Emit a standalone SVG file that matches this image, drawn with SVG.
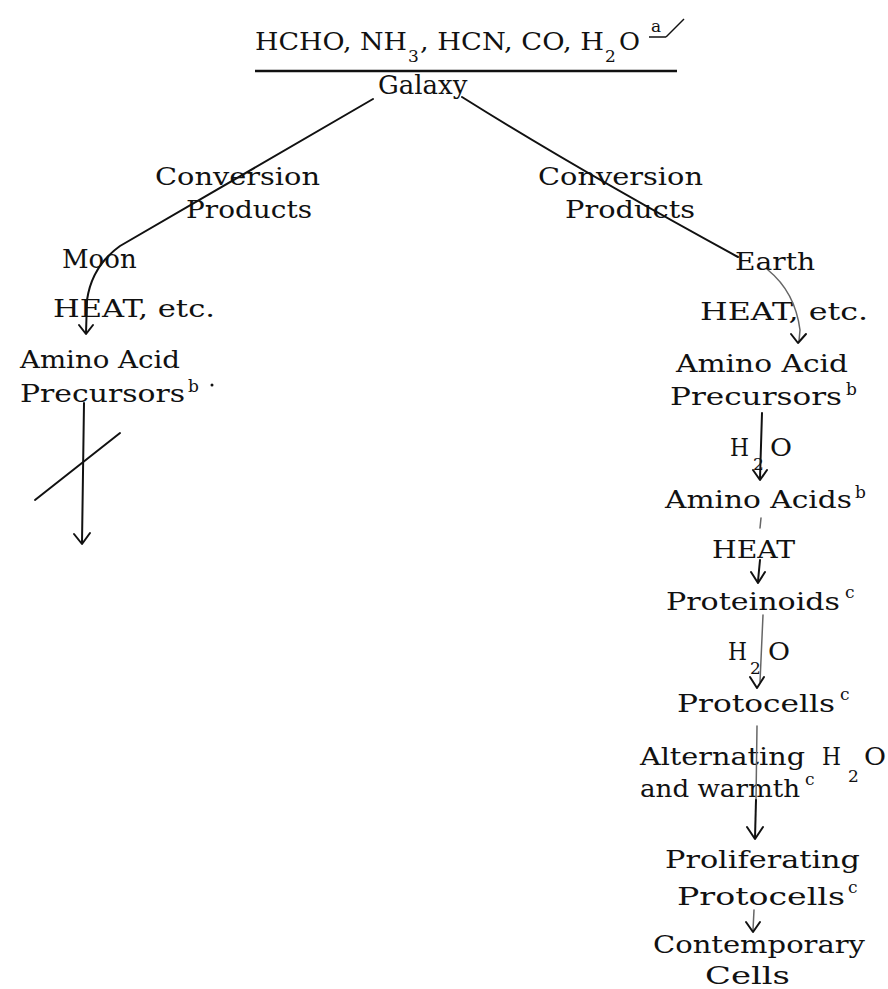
<svg xmlns="http://www.w3.org/2000/svg" width="888" height="989" viewBox="0 0 888 989">
<style>
text{font-family:"DejaVu Serif","Liberation Serif",serif;font-size:24px;fill:#111}
.s{font-size:17px}
.b{font-size:26px}
.c line,.c path,.c polyline{stroke:#111;stroke-width:2;fill:none;stroke-linecap:round;stroke-linejoin:round}
.c .f{stroke:#666;stroke-width:1.5}
</style>
<rect width="888" height="989" fill="#fff"/>
<g id="title">
<text x="255" y="50" textLength="152" lengthAdjust="spacingAndGlyphs">HCHO, NH</text>
<text class="s" x="408" y="62">3</text>
<text x="420" y="50" textLength="184" lengthAdjust="spacingAndGlyphs">, HCN, CO, H</text>
<text class="s" x="605" y="62">2</text>
<text x="619" y="50" textLength="21" lengthAdjust="spacingAndGlyphs">O</text>
<text class="s" x="651" y="32">a</text>
<line x1="649" y1="37" x2="666" y2="37" stroke="#111" stroke-width="1.5"/>
<line x1="666" y1="37" x2="684" y2="19" stroke="#111" stroke-width="1.5"/>
<line x1="255" y1="71" x2="677" y2="71" stroke="#111" stroke-width="2.5"/>
</g>
<g id="galaxy"><text class="b" x="378" y="94">Galaxy</text></g>
<g id="conv-left">
<text x="155" y="185" textLength="165" lengthAdjust="spacingAndGlyphs">Conversion</text>
<text x="186" y="218" textLength="126" lengthAdjust="spacingAndGlyphs">Products</text>
</g>
<g id="conv-right">
<text x="538" y="185" textLength="165" lengthAdjust="spacingAndGlyphs">Conversion</text>
<text x="565" y="218" textLength="130" lengthAdjust="spacingAndGlyphs">Products</text>
</g>
<g id="moon"><text class="b" x="62" y="268">Moon</text></g>
<g id="heat-left"><text x="53" y="317" textLength="162" lengthAdjust="spacingAndGlyphs">HEAT, etc.</text></g>
<g id="aap-left">
<text x="20" y="368" textLength="160" lengthAdjust="spacingAndGlyphs">Amino Acid</text>
<text x="20" y="402" textLength="165" lengthAdjust="spacingAndGlyphs">Precursors</text>
<text class="s" x="188" y="392">b</text>
</g>
<g id="earth"><text x="735" y="270" textLength="80" lengthAdjust="spacingAndGlyphs" fill="#444">Earth</text></g>
<g id="heat-right"><text x="700" y="320" textLength="168" lengthAdjust="spacingAndGlyphs">HEAT, etc.</text></g>
<g id="aap-right">
<text x="676" y="372" textLength="172" lengthAdjust="spacingAndGlyphs">Amino Acid</text>
<text x="670" y="405" textLength="172" lengthAdjust="spacingAndGlyphs">Precursors</text>
<text class="s" x="846" y="395">b</text>
</g>
<g id="h2o-1">
<text x="730" y="456" textLength="19" lengthAdjust="spacingAndGlyphs">H</text>
<text class="s" x="753" y="470">2</text>
<text x="770" y="456" textLength="22" lengthAdjust="spacingAndGlyphs">O</text>
</g>
<g id="amino-acids">
<text x="665" y="508" textLength="187" lengthAdjust="spacingAndGlyphs">Amino Acids</text>
<text class="s" x="855" y="498">b</text>
</g>
<g id="heat-2"><text x="712" y="558" textLength="83" lengthAdjust="spacingAndGlyphs">HEAT</text></g>
<g id="proteinoids">
<text x="666" y="610" textLength="174" lengthAdjust="spacingAndGlyphs">Proteinoids</text>
<text class="s" x="845" y="598">c</text>
</g>
<g id="h2o-2">
<text x="728" y="660" textLength="19" lengthAdjust="spacingAndGlyphs">H</text>
<text class="s" x="750" y="674">2</text>
<text x="768" y="660" textLength="22" lengthAdjust="spacingAndGlyphs">O</text>
</g>
<g id="protocells">
<text x="677" y="712" textLength="158" lengthAdjust="spacingAndGlyphs" fill="#333">Protocells</text>
<text class="s" x="840" y="700">c</text>
</g>
<g id="alternating">
<text x="640" y="765" textLength="165" lengthAdjust="spacingAndGlyphs">Alternating</text>
<text x="822" y="765" textLength="19" lengthAdjust="spacingAndGlyphs">H</text>
<text class="s" x="848" y="782">2</text>
<text x="864" y="765" textLength="22" lengthAdjust="spacingAndGlyphs">O</text>
<text x="640" y="797" textLength="160" lengthAdjust="spacingAndGlyphs">and warmth</text>
<text class="s" x="805" y="785">c</text>
</g>
<g id="proliferating">
<text x="665" y="868" textLength="195" lengthAdjust="spacingAndGlyphs">Proliferating</text>
<text x="677" y="905" textLength="168" lengthAdjust="spacingAndGlyphs">Protocells</text>
<text class="s" x="848" y="893">c</text>
</g>
<g id="contemporary">
<text x="653" y="953" textLength="212" lengthAdjust="spacingAndGlyphs">Contemporary</text>
<text x="705" y="984" textLength="85" lengthAdjust="spacingAndGlyphs">Cells</text>
</g>
<g id="connectors" class="c">
<path d="M373,99 L120,246 Q92,266 87,300 L86,333"/>
<polyline points="79,325 86,334 93,325"/>
<line x1="84" y1="403" x2="82" y2="543"/>
<polyline points="74,534 82,544 90,533"/>
<line x1="35" y1="500" x2="120" y2="433"/>
<path d="M462,97 Q575,168 738,257"/>
<path class="f" d="M768,270 Q795,292 800,330 L799,341"/>
<polyline points="791,334 798,343 806,334"/>
<line x1="762" y1="413" x2="760" y2="478"/>
<polyline points="753,470 760,480 767,470"/>
<line class="f" x1="761" y1="518" x2="760" y2="528"/>
<line x1="760" y1="560" x2="758" y2="581"/>
<polyline points="751,572 758,583 765,572"/>
<line class="f" x1="763" y1="615" x2="760" y2="682"/>
<polyline points="750,677 757,688 764,677"/>
<line class="f" x1="757" y1="726" x2="756" y2="800"/>
<line x1="756" y1="800" x2="755" y2="838"/>
<polyline points="747,827 755,839 763,827"/>
<line class="f" x1="754" y1="910" x2="753" y2="930"/>
<polyline points="746,922 753,932 760,922"/>
</g>
<circle cx="212" cy="385" r="1.5" fill="#111"/>
</svg>
